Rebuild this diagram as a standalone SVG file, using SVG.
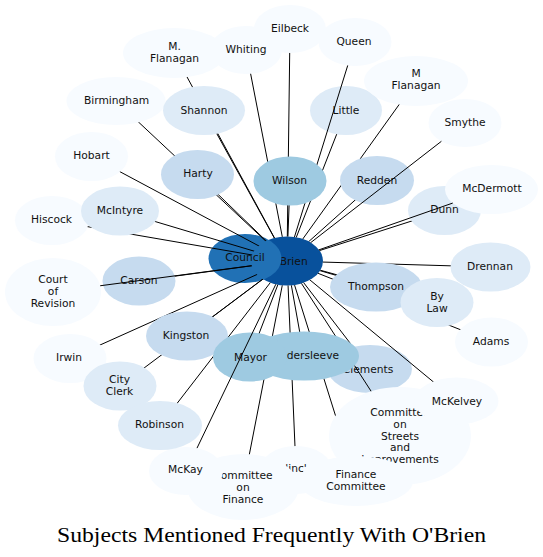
<svg xmlns="http://www.w3.org/2000/svg" width="543" height="557" viewBox="0 0 543 557">
<style>
.p{fill:#f7fbff}.l{fill:#deebf7}.m{fill:#c6dbef}.w{fill:#9ecae1}.c{fill:#2171b5}.o{fill:#08519c}
text{font-family:"DejaVu Sans","Liberation Sans",sans-serif;font-size:10.7px;fill:#111;text-anchor:middle}
.e line{stroke:#000;stroke-width:1}
.title{font-family:"Liberation Serif","Times New Roman",serif;font-size:20px;fill:#000}
</style>
<defs>
<mask id="mO" maskUnits="userSpaceOnUse" x="0" y="0" width="543" height="557">
<rect width="543" height="557" fill="#fff"/>
<ellipse cx="287" cy="261" rx="36" ry="24.5" fill="#000"/>
</mask>
</defs>
<rect width="543" height="557" fill="#fff"/>
<g id="node-obrien"><ellipse class="o" cx="287" cy="261" rx="36" ry="24.5"/><text x="288" y="264.5">O'Brien</text></g>
<g id="node-council"><ellipse class="c" cx="245" cy="258.5" rx="36.5" ry="24.5"/><text x="245" y="261.3">Council</text></g>
<g id="node-little"><ellipse class="l" cx="346" cy="110.5" rx="36" ry="24.5"/><text x="346" y="113.6">Little</text></g>
<g id="node-clements"><ellipse class="m" cx="370" cy="369" rx="42" ry="24"/><text x="368" y="372.8">Clements</text></g>
<g id="connectors" class="e" mask="url(#mO)">
<line x1="290" y1="29" x2="287" y2="261"/>
<line x1="355" y1="42" x2="287" y2="261"/>
<line x1="246" y1="50" x2="287" y2="261"/>
<line x1="174" y1="53" x2="287" y2="261"/>
<line x1="116" y1="101" x2="287" y2="261"/>
<line x1="204" y1="110.5" x2="287" y2="261"/>
<line x1="91.5" y1="156.5" x2="287" y2="261"/>
<line x1="197.5" y1="174.5" x2="287" y2="261"/>
<line x1="290" y1="181" x2="287" y2="261"/>
<line x1="336.7" y1="134.2" x2="287" y2="261"/>
<line x1="416" y1="81" x2="287" y2="261"/>
<line x1="377" y1="180.5" x2="287" y2="261"/>
<line x1="444.5" y1="210.5" x2="287" y2="261"/>
<line x1="120" y1="211" x2="287" y2="261"/>
<line x1="52" y1="220.5" x2="287" y2="261"/>
<line x1="139" y1="281" x2="287" y2="261"/>
<line x1="490.5" y1="267" x2="287" y2="261"/>
<line x1="376" y1="287" x2="287" y2="261"/>
<line x1="437" y1="302.5" x2="287" y2="261"/>
<line x1="491.5" y1="342" x2="287" y2="261"/>
<line x1="187" y1="336" x2="287" y2="261"/>
<line x1="70" y1="358.5" x2="287" y2="261"/>
<line x1="120" y1="386" x2="287" y2="261"/>
<line x1="160" y1="425.5" x2="287" y2="261"/>
<line x1="250" y1="357" x2="287" y2="261"/>
<line x1="304" y1="356" x2="287" y2="261"/>
<line x1="353.1" y1="347" x2="287" y2="261"/>
<line x1="456.5" y1="401" x2="287" y2="261"/>
<line x1="400" y1="436" x2="287" y2="261"/>
<line x1="356" y1="481" x2="287" y2="261"/>
<line x1="296" y1="470" x2="287" y2="261"/>
<line x1="243" y1="487" x2="287" y2="261"/>
</g>
<g id="node-eilbeck"><ellipse class="p" cx="290" cy="29" rx="36" ry="24"/><text x="290" y="31.8">Eilbeck</text></g>
<g id="node-queen"><ellipse class="p" cx="355" cy="42" rx="36.5" ry="24"/><text x="354" y="45.3">Queen</text></g>
<g id="node-whiting"><ellipse class="p" cx="246" cy="50" rx="36" ry="24"/><text x="246" y="52.8">Whiting</text></g>
<g id="node-m-flanagan"><ellipse class="p" cx="174" cy="53" rx="51" ry="25"/><text x="174.5" y="49.7">M.</text><text x="174.5" y="61.7">Flanagan</text></g>
<g id="node-m-flanagan-2"><ellipse class="p" cx="416" cy="81" rx="52" ry="25"/><text x="416" y="77.3">M</text><text x="416" y="89.3">Flanagan</text></g>
<g id="node-smythe"><ellipse class="p" cx="465" cy="123" rx="36.5" ry="24"/><text x="465" y="125.8">Smythe</text></g>
<g id="node-birmingham"><ellipse class="p" cx="116" cy="101" rx="49.5" ry="24"/><text x="116.5" y="103.8">Birmingham</text></g>
<g id="node-hobart"><ellipse class="p" cx="91.5" cy="156.5" rx="36.5" ry="24.5"/><text x="91.5" y="159.1">Hobart</text></g>
<g id="node-hiscock"><ellipse class="p" cx="52" cy="220.5" rx="37" ry="24.5"/><text x="51.5" y="223.1">Hiscock</text></g>
<g id="node-court"><ellipse class="p" cx="53" cy="292" rx="48" ry="34"/><text x="53" y="282.6">Court</text><text x="53" y="294.6">of</text><text x="53" y="306.6">Revision</text></g>
<g id="node-irwin"><ellipse class="p" cx="70" cy="358.5" rx="36.5" ry="24.5"/><text x="69" y="360.5">Irwin</text></g>
<g id="node-adams"><ellipse class="p" cx="491.5" cy="342" rx="36.5" ry="24.5"/><text x="491" y="344.8">Adams</text></g>
<g id="node-streets"><ellipse class="p" cx="400" cy="436" rx="71" ry="49"/><text x="400" y="416">Committee</text><text x="400" y="427.8">on</text><text x="400" y="439.6">Streets</text><text x="400" y="451.4">and</text><text x="400" y="463.2">Improvements</text></g>
<g id="node-mckelvey"><ellipse class="p" cx="456.5" cy="401" rx="42" ry="23.5"/><text x="457" y="404.8">McKelvey</text></g>
<g id="node-inc"><ellipse class="p" cx="296" cy="470" rx="36" ry="24"/><text x="296" y="471.5">'inc'</text></g>
<g id="node-committee-finance"><ellipse class="p" cx="243" cy="487" rx="56" ry="33"/><text x="243" y="478.8">Committee</text><text x="243" y="490.8">on</text><text x="243" y="502.8">Finance</text></g>
<g id="node-finance-committee"><ellipse class="p" cx="356" cy="481" rx="57" ry="25"/><text x="356" y="478">Finance</text><text x="356" y="490">Committee</text></g>
<g id="node-mckay"><ellipse class="p" cx="186" cy="471" rx="37" ry="24"/><text x="185.5" y="473.1">McKay</text></g>
<g id="node-shannon"><ellipse class="l" cx="204" cy="110.5" rx="41" ry="24.5"/><text x="204" y="113.8">Shannon</text></g>
<g id="node-mcintyre"><ellipse class="l" cx="120" cy="211" rx="39" ry="24.5"/><text x="120" y="213.8">McIntyre</text></g>
<g id="node-dunn"><ellipse class="l" cx="444.5" cy="210.5" rx="36.5" ry="24.5"/><text x="444.5" y="213.1">Dunn</text></g>
<g id="node-mcdermott"><ellipse class="p" cx="491.5" cy="189.5" rx="46.5" ry="24.5"/><text x="492" y="192.1">McDermott</text></g>
<g id="node-drennan"><ellipse class="l" cx="490.5" cy="267" rx="40" ry="24.5"/><text x="490" y="269.8">Drennan</text></g>
<g id="node-thompson"><ellipse class="m" cx="376" cy="287" rx="46" ry="24.5"/><text x="376" y="289.5">Thompson</text></g>
<g id="node-bylaw"><ellipse class="l" cx="437" cy="302.5" rx="36.5" ry="24.5"/><text x="437" y="299.5">By</text><text x="437" y="311.5">Law</text></g>
<g id="node-city-clerk"><ellipse class="l" cx="120" cy="386" rx="36.5" ry="24.5"/><text x="119.5" y="382.8">City</text><text x="119.5" y="394.8">Clerk</text></g>
<g id="node-robinson"><ellipse class="l" cx="160" cy="425.5" rx="42" ry="24.5"/><text x="159.5" y="428.1">Robinson</text></g>
<g id="node-harty"><ellipse class="m" cx="197.5" cy="174.5" rx="36.5" ry="24.5"/><text x="198" y="177.1">Harty</text></g>
<g id="node-redden"><ellipse class="m" cx="377" cy="180.5" rx="37" ry="24.5"/><text x="377" y="183.8">Redden</text></g>
<g id="node-carson"><ellipse class="m" cx="139" cy="281" rx="36.5" ry="24.5"/><text x="139" y="283.8">Carson</text></g>
<g id="node-kingston"><ellipse class="m" cx="187" cy="336" rx="41" ry="24.5"/><text x="186" y="338.8">Kingston</text></g>
<g id="node-wilson"><ellipse class="w" cx="290" cy="181" rx="36.5" ry="24.5"/><text x="289.5" y="183.8">Wilson</text></g>
<g id="node-vandersleeve"><ellipse class="w" cx="304" cy="356" rx="55" ry="24.5"/><text x="303" y="358.8">Vandersleeve</text></g>
<g id="node-mayor"><ellipse class="w" cx="250" cy="357" rx="37" ry="24.5"/><text x="250.5" y="360.5">Mayor</text></g>
<g id="connectors-front" class="e" mask="url(#mO)">
<line x1="441.4" y1="141.3" x2="287" y2="261"/>
<line x1="452.75" y1="203.05" x2="287" y2="261"/>
<line x1="100.2" y1="285.75" x2="287" y2="261"/>
<line x1="197" y1="448.1" x2="287" y2="261"/>
</g>
<text class="title" x="271.5" y="541.7" text-anchor="middle" textLength="429" lengthAdjust="spacingAndGlyphs">Subjects Mentioned Frequently With O'Brien</text>
</svg>
